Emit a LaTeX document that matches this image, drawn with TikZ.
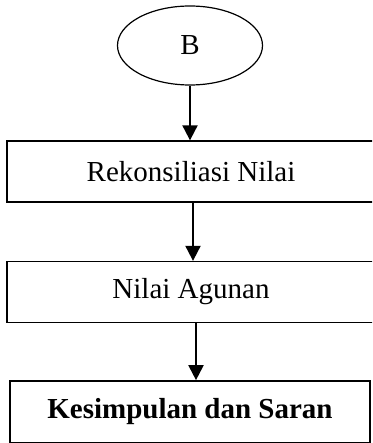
\documentclass[tikz,border=0pt]{standalone}
\usepackage{fontspec}
\setmainfont{Liberation Serif}
\usetikzlibrary{arrows.meta,shapes.geometric,calc}
\tikzset{
  flow/.style={-{Triangle[length=15pt,width=15pt]},line width=2pt},
  start/.style={draw,ellipse,line width=1.2pt,minimum width=145pt,minimum height=79pt,inner sep=0pt,font=\fontsize{29}{34}\selectfont},
  box/.style={draw,line width=1.3pt,minimum width=368pt,minimum height=61pt,inner sep=0pt,font=\fontsize{29}{34}\selectfont},
  endbox/.style={box,line width=1.8pt,minimum width=360pt,minimum height=61.5pt,font=\fontsize{29}{34}\selectfont\bfseries}
}

\begin{document}
\begin{tikzpicture}[x=1pt,y=-1pt]
    \useasboundingbox (0,0) rectangle (372,443);
    \clip (0,0) rectangle (372,443);
    \node[start] (B) at (190,45.5) {B};
    \node[box] (rek) at (191,171.5) {Rekonsiliasi Nilai};
    \node[box] (agun) at (191,292) {Nilai Agunan};
    \node[endbox] (kes) at (190,411.8) {Kesimpulan dan Saran};
    \draw[flow] (B.south) -- (B.south |- rek.north);
    \draw[flow] ([xshift=2pt]rek.south) -- ([xshift=2pt]rek.south |- agun.north);
    \draw[flow] ([xshift=5pt]agun.south) -- ([xshift=5pt]agun.south |- kes.north);
  \end{tikzpicture}
\end{document}
